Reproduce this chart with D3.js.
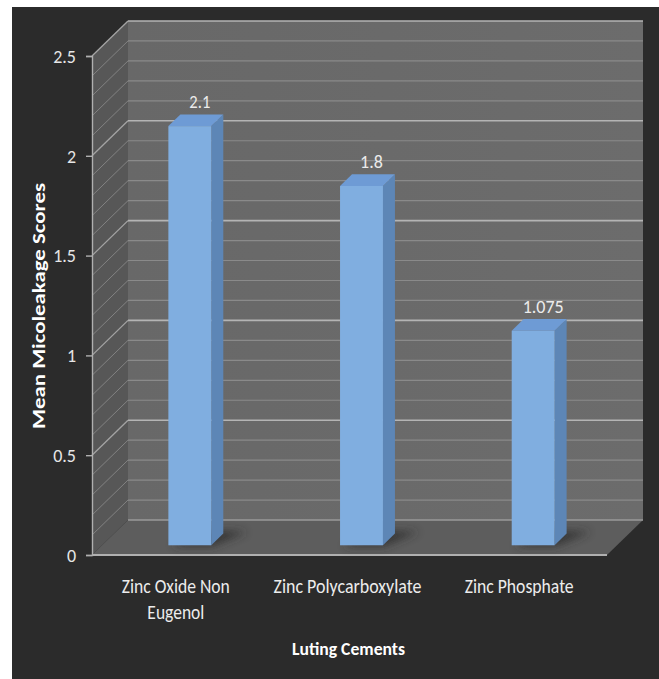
<!DOCTYPE html>
<html>
<head>
<meta charset="utf-8">
<script src="https://cdn.jsdelivr.net/npm/d3@7"></script>
<style>
  html, body { margin: 0; padding: 0; background: #ffffff; }
  svg { display: block; }
</style>
</head>
<body>
<script>
// ---- data ----
const categories = ["Zinc Oxide Non Eugenol", "Zinc Polycarboxylate", "Zinc Phosphate"];
const categoryLines = [["Zinc Oxide Non", "Eugenol"], ["Zinc Polycarboxylate"], ["Zinc Phosphate"]];
const values = [2.1, 1.8, 1.075];
const valueLabels = ["2.1", "1.8", "1.075"];
const yTickValues = [0, 0.5, 1, 1.5, 2, 2.5];
const yTickLabels = ["0", "0.5", "1", "1.5", "2", "2.5"];
const yAxisTitle = "Mean Micoleakage Scores";
const xAxisTitle = "Luting Cements";

(function () {
// ---- layout ----
const W = 659, H = 679;
const font = "Carlito, Calibri, 'Liberation Sans Narrow', 'Open Sans', sans-serif";
const pLeft = 92, pRight = 607, pBottom = 555, pTop = 56;
const DX = 36, DY = 35;         // depth offset (front -> back)
const d1 = 10, d2 = 22;         // bar front / back depth (pixels in x)
const ky = DY / DX;
const barShift = 2;

const svg = d3.select("body").append("svg").attr("width", W).attr("height", H);
const defs = svg.append("defs");
const blur = defs.append("filter").attr("id", "shadowBlur")
  .attr("x", "-50%").attr("y", "-50%").attr("width", "200%").attr("height", "200%");
blur.append("feGaussianBlur").attr("stdDeviation", 4);

const wallGrad = defs.append("linearGradient").attr("id", "wallGrad")
  .attr("x1", 0).attr("y1", 0).attr("x2", 1).attr("y2", 0);
wallGrad.append("stop").attr("offset", "0%").attr("stop-color", "#686868");
wallGrad.append("stop").attr("offset", "100%").attr("stop-color", "#6c6c6c");

svg.append("rect").attr("x", 12).attr("y", 7).attr("width", W - 12).attr("height", H - 7)
  .attr("fill", "#2b2b2b");

const x = d3.scaleBand().domain(categories).range([pLeft, pRight]).paddingInner(0).paddingOuter(0);
const y = d3.scaleLinear().domain([0, 2.5]).range([pBottom, pTop]);
const P = (px, v, d) => [px + d, y(v) - d * ky];
const poly = pts => "M" + pts.map(p => p.join(",")).join("L") + "Z";

// back wall
svg.append("path")
  .attr("d", poly([P(pLeft, 0, DX), P(pRight, 0, DX), P(pRight, 2.5, DX), P(pLeft, 2.5, DX)]))
  .attr("fill", "url(#wallGrad)");
// side wall
svg.append("path")
  .attr("d", poly([P(pLeft, 0, 0), P(pLeft, 0, DX), P(pLeft, 2.5, DX), P(pLeft, 2.5, 0)]))
  .attr("fill", "#575757");
// floor
svg.append("path")
  .attr("d", poly([P(pLeft, 0, 0), P(pRight, 0, 0), P(pRight, 0, DX), P(pLeft, 0, DX)]))
  .attr("fill", "#5d5d5d");

// gridlines
const gridVals = y.ticks(25);
const isMajor = v => Math.abs(v * 2 - Math.round(v * 2)) < 1e-6;
const grid = svg.append("g");
gridVals.forEach(v => {
  const major = isMajor(v);
  const a = P(pLeft, v, DX), b = P(pRight, v, DX), c = P(pLeft, v, 0);
  grid.append("line").attr("x1", a[0]).attr("y1", a[1]).attr("x2", b[0]).attr("y2", b[1])
    .attr("stroke", v === 0 ? "#9a9a9a" : (major ? "#b4b4b4" : "#8a8a8a"))
    .attr("stroke-width", major ? 1.6 : 1.2);
  if (v > 0) {
    grid.append("line").attr("x1", c[0]).attr("y1", c[1]).attr("x2", a[0]).attr("y2", a[1])
      .attr("stroke", major ? "#a4a4a4" : "#828282").attr("stroke-width", major ? 1.3 : 1);
  }
});
// floor front edge
svg.append("line").attr("x1", pLeft).attr("y1", pBottom).attr("x2", pRight).attr("y2", pBottom)
  .attr("stroke", "#b0b0b0").attr("stroke-width", 2);

// bars
const barW = x.bandwidth() * 0.25;
const bars = svg.append("g");
categories.forEach((c, i) => {
  const v = values[i];
  const x0 = x(c) + x.bandwidth() / 2 - barW / 2 + barShift;
  const x1 = x0 + barW;
  // shadow
  bars.append("path")
    .attr("d", poly([P(x0 + 4, 0, d1 - 1), P(x1 + 2, 0, d1 - 1), P(x1 + 22, 0, d2 + 2), P(x0 + 18, 0, d2 + 4)]))
    .attr("fill", "#2a2a2a").attr("opacity", 0.75).attr("filter", "url(#shadowBlur)");
  // side face
  bars.append("path")
    .attr("d", poly([P(x1, 0, d1), P(x1, 0, d2), P(x1, v, d2), P(x1, v, d1)]))
    .attr("fill", "#5d86b6");
  // top face
  bars.append("path")
    .attr("d", poly([P(x0, v, d1), P(x1, v, d1), P(x1, v, d2), P(x0, v, d2)]))
    .attr("fill", "#6e9bd5");
  // front face
  const f0 = P(x0, v, d1), f1 = P(x1, 0, d1);
  bars.append("rect").attr("x", f0[0]).attr("y", f0[1])
    .attr("width", f1[0] - f0[0]).attr("height", f1[1] - f0[1])
    .attr("fill", "#80aee0");
  // value label
  const t = P(x0 + barW / 2 - 2, v, d2);
  bars.append("text").attr("x", t[0]).attr("y", t[1] - 6)
    .attr("text-anchor", "middle").attr("font-family", font).attr("font-size", 18)
    .attr("fill", "#ececec").text(valueLabels[i]);
});

// y axis
const yAxis = d3.axisLeft(y).tickValues(yTickValues).tickSize(6).tickPadding(10)
  .tickFormat((d, i) => yTickLabels[i]);
const ag = svg.append("g").attr("transform", `translate(${pLeft},0)`).call(yAxis);
ag.select(".domain").attr("stroke", "#b0b0b0").attr("stroke-width", 1.4);
ag.selectAll(".tick line").attr("stroke", "#b0b0b0").attr("stroke-width", 1.4);
ag.selectAll(".tick text").attr("font-family", font).attr("font-size", 18)
  .attr("fill", "#e6e6e6").attr("dy", "0.35em");

// category labels
const cg = svg.append("g");
categories.forEach((c, i) => {
  const cx = x(c) + x.bandwidth() / 2 - 2;
  categoryLines[i].forEach((line, j) => {
    cg.append("text").attr("x", cx).attr("y", 593 + j * 26)
      .attr("text-anchor", "middle").attr("font-family", font).attr("font-size", 20)
      .attr("fill", "#ececec").text(line);
  });
});

// axis titles
svg.append("text").attr("class", "xtitle").attr("x", 348.5).attr("y", 655).attr("text-anchor", "middle")
  .attr("font-family", font).attr("font-size", 19).attr("font-weight", "bold")
  .attr("fill", "#ffffff").text(xAxisTitle);
svg.append("text").attr("class", "ytitle").attr("transform", "translate(45,306) rotate(-90)")
  .attr("text-anchor", "middle").attr("font-family", font).attr("font-size", 19)
  .attr("font-weight", "bold").attr("fill", "#ffffff").text(yAxisTitle);

// fit text widths to the reference
function fit(sel, target) {
  const w = sel.node().getComputedTextLength();
  if (Math.abs(w - target) > 1) sel.attr("textLength", target).attr("lengthAdjust", "spacingAndGlyphs");
}
const widths = {
  "Zinc Oxide Non": 108, "Eugenol": 57, "Zinc Polycarboxylate": 148, "Zinc Phosphate": 109,
  "2.1": 21, "1.8": 22, "1.075": 41
};
cg.selectAll("text").each(function () { const s = d3.select(this); if (widths[s.text()]) fit(s, widths[s.text()]); });
bars.selectAll("text").each(function () { const s = d3.select(this); if (widths[s.text()]) fit(s, widths[s.text()]); });
fit(svg.select(".xtitle"), 113);
fit(svg.select(".ytitle"), 246);
// tick labels: uniform horizontal scaling from "2.5"
let factor = 1;
ag.selectAll(".tick text").each(function () {
  if (d3.select(this).text() === "2.5") factor = 23 / this.getComputedTextLength();
});
if (Math.abs(factor - 1) > 0.04) {
  ag.selectAll(".tick text").each(function () {
    const w = this.getComputedTextLength();
    d3.select(this).attr("textLength", w * factor).attr("lengthAdjust", "spacingAndGlyphs");
  });
}
})();
</script>
</body>
</html>
